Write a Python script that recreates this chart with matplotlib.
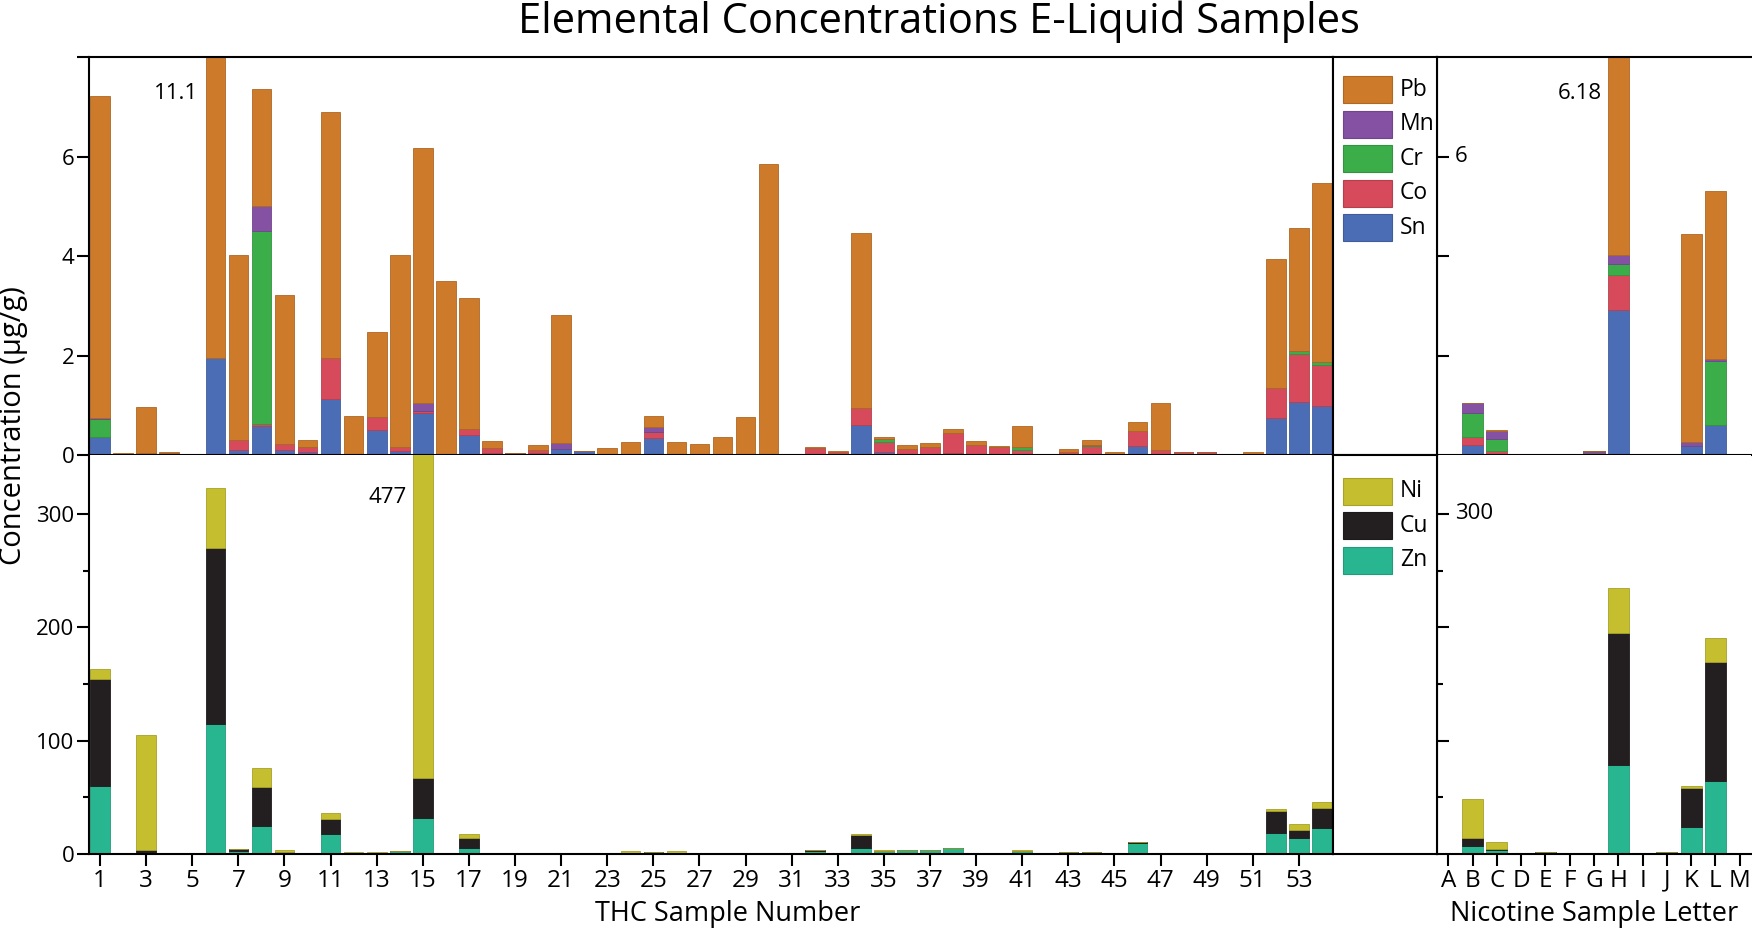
import matplotlib
matplotlib.use('Agg')
import matplotlib.pyplot as plt
from matplotlib.patches import Rectangle
from matplotlib.transforms import blended_transform_factory
from matplotlib.colors import to_rgb
import numpy as np

plt.rcParams['font.family'] = ['Open Sans', 'DejaVu Sans']

# ---------------- data ----------------
thc_samples = list(range(1, 55))
nic_letters = list("ABCDEFGHIJKLM")

# THC, upper panel (ug/g)
thc_Sn = [0.36, 0.02, 0.03, 0, 0, 1.94, 0.11, 0.59, 0.11, 0.06, 1.13, 0.02, 0.50, 0.08, 0.85, 0, 0.40, 0.05,
          0.02, 0.05, 0.13, 0.08, 0.03, 0.02, 0.34, 0, 0, 0, 0, 0, 0, 0.03, 0.01, 0.60, 0.07, 0,
          0, 0.05, 0, 0, 0, 0, 0, 0, 0, 0.19, 0, 0, 0, 0, 0, 0.75, 1.07, 0.99]
thc_Co = [0, 0, 0, 0, 0, 0, 0.19, 0.03, 0.11, 0.11, 0.81, 0, 0.27, 0.09, 0.03, 0, 0.12, 0.10,
          0.03, 0.06, 0, 0, 0, 0, 0.13, 0, 0, 0, 0, 0, 0.02, 0.12, 0.06, 0.34, 0.20, 0.12,
          0.17, 0.40, 0.21, 0.17, 0.11, 0.01, 0.07, 0.18, 0.03, 0.30, 0.10, 0.06, 0.06, 0, 0.02, 0.59, 0.97, 0.82]
thc_Cr = [0.36, 0, 0, 0.04, 0, 0, 0, 3.88, 0, 0, 0, 0, 0, 0, 0, 0, 0, 0,
          0, 0, 0, 0, 0, 0, 0, 0, 0, 0, 0, 0, 0, 0, 0, 0, 0.06, 0,
          0, 0, 0, 0, 0.06, 0, 0, 0.03, 0, 0, 0, 0, 0, 0, 0, 0.01, 0.05, 0.05]
thc_Mn = [0.03, 0, 0.02, 0, 0, 0, 0, 0.51, 0, 0, 0, 0, 0, 0, 0.16, 0, 0, 0,
          0, 0, 0.12, 0, 0, 0, 0.09, 0, 0, 0, 0, 0, 0, 0, 0, 0, 0, 0,
          0, 0, 0, 0, 0, 0, 0, 0, 0, 0, 0, 0, 0, 0, 0, 0, 0, 0]
thc_Pb = [6.47, 0.03, 0.92, 0.02, 0.02, 11.1, 3.73, 2.34, 2.99, 0.14, 4.95, 0.77, 1.70, 3.85, 5.13, 3.49, 2.64, 0.14,
          0, 0.10, 2.57, 0, 0.12, 0.25, 0.22, 0.27, 0.23, 0.36, 0.76, 5.85, 0, 0.02, 0.01, 3.53, 0.04, 0.09,
          0.07, 0.07, 0.07, 0.02, 0.42, 0, 0.06, 0.09, 0.03, 0.18, 0.94, 0.01, 0.01, 0, 0.04, 2.58, 2.48, 3.60]

# THC, lower panel (ug/g)
thc_Zn = [60, 0.3, 1, 1.2, 0, 115, 2.6, 25, 0.9, 0, 18, 0, 0, 2.4, 32, 0, 5.6, 1.2,
          0, 0, 0, 0, 0, 0, 1, 0.8, 0, 0, 0, 0, 0, 2.6, 0, 5.6, 2.6, 3.2,
          3.8, 5, 0, 0, 2.6, 0, 1.5, 2, 0, 9.7, 0, 0, 0, 0, 0, 18.8, 14.4, 22.9]
thc_Cu = [94, 0.3, 2.2, 0, 0, 155, 1.5, 34, 1.1, 0.3, 13, 0, 0, 0, 35.4, 0, 8.5, 0,
          0, 0, 0, 0, 0, 0, 0.5, 0, 0, 0.4, 0.4, 0, 0, 1.2, 0, 11.2, 0, 0,
          0, 0, 0, 0, 0, 0, 0, 0, 0, 0.6, 0, 0, 0.3, 0, 0.3, 19.1, 7.1, 18]
thc_Ni = [9, 0, 102, 0, 0, 53, 0.3, 16.5, 1.2, 0, 5.6, 2, 1.5, 0, 477, 0.4, 3.5, 0,
          0, 0, 0.4, 0.6, 0.8, 2.9, 0, 2, 1.2, 0, 0, 0.8, 0.8, 0, 0, 1.1, 0.6, 0,
          0, 0, 0, 0, 1.2, 0, 0, 0, 0, 0, 0, 0, 0, 0, 0, 1.8, 5, 5.3]

# Nicotine, upper panel
nic_Sn = [0, 0.20, 0.03, 0, 0, 0, 0.07, 2.92, 0, 0, 0.19, 0.60, 0]
nic_Co = [0.01, 0.17, 0.05, 0.01, 0, 0, 0.01, 0.70, 0, 0, 0, 0, 0]
nic_Cr = [0, 0.48, 0.24, 0, 0, 0, 0, 0.22, 0, 0, 0, 1.29, 0]
nic_Mn = [0, 0.19, 0.17, 0, 0.02, 0.03, 0, 0.19, 0.02, 0.02, 0.08, 0.03, 0.02]
nic_Pb = [0.02, 0, 0.01, 0, 0, 0, 0, 6.18, 0, 0, 4.17, 3.39, 0]

# Nicotine, lower panel
nic_Zn = [0, 7, 3.2, 0, 0, 0, 0, 78.8, 1.2, 1.8, 24.1, 64.4, 0]
nic_Cu = [0, 7.4, 1.2, 0.5, 1.8, 0, 0.8, 116.2, 0, 0, 34.1, 105.3, 0]
nic_Ni = [0, 34.4, 6.2, 0.7, 0, 0.6, 0, 40, 0, 0, 1.5, 20.9, 0]

top_names = ["Sn", "Co", "Cr", "Mn", "Pb"]          # stacking order, bottom -> top
bot_names = ["Zn", "Cu", "Ni"]
colors = {"Pb": "#CD7A2A", "Mn": "#8451A3", "Cr": "#3BAE4A", "Co": "#D64A5B", "Sn": "#4B6DB6",
          "Ni": "#C5BF2F", "Cu": "#231F20", "Zn": "#28B690"}
legend_top = ["Pb", "Mn", "Cr", "Co", "Sn"]
legend_bot = ["Ni", "Cu", "Zn"]

# ---------------- figure ----------------
W, H = 1752, 931
fig = plt.figure(figsize=(W / 100, H / 100), dpi=100)

Y_TOP, Y_MID, Y_BOT = 57, 455, 854
X_L, X_LEG, X_R, X_END = 89, 1333, 1437, 1751

LW = 1.5
YTICK_FS = 16
XTICK_FS = 17.5


def ax_px(x0, y0, x1, y1):
    return fig.add_axes([x0 / W, 1 - y1 / H, (x1 - x0) / W, (y1 - y0) / H])


def darker(c, f=0.85):
    r, g, b = to_rgb(c)
    return (r * f, g * f, b * f)


def stack(ax, x, series, names, width):
    bottom = np.zeros(len(x))
    for vals, n in zip(series, names):
        vals = np.asarray(vals, dtype=float)
        ax.bar(x, vals, width, bottom=bottom, color=colors[n], edgecolor=darker(colors[n]),
               linewidth=0.6)
        bottom += vals


def style(ax):
    for s in ax.spines.values():
        s.set_linewidth(LW)
    ax.tick_params(which='major', width=LW, length=8.5, pad=2)
    ax.tick_params(which='minor', width=LW, length=4.5)
    ax.tick_params(axis='x', labelsize=XTICK_FS)
    ax.tick_params(axis='y', labelsize=YTICK_FS)


# THC top
ax1 = ax_px(X_L, Y_TOP, X_LEG, Y_MID)
x_thc = np.array(thc_samples)
stack(ax1, x_thc, [thc_Sn, thc_Co, thc_Cr, thc_Mn, thc_Pb], top_names, 0.85)
ax1.set_xlim(0.52, 54.48)
ax1.set_ylim(0, 8)
style(ax1)
ax1.set_xticks(range(1, 55, 2))
ax1.tick_params(axis='x', labelbottom=False)
ax1.set_yticks([0, 2, 4, 6, 8])
ax1.set_yticklabels(['0', '2', '4', '6', ''])
ax1.text(5.25, 7.26, '11.1', ha='right', va='center', fontsize=16)

# THC bottom
ax2 = ax_px(X_L, Y_MID, X_LEG, Y_BOT)
stack(ax2, x_thc, [thc_Zn, thc_Cu, thc_Ni], bot_names, 0.85)
ax2.set_xlim(0.52, 54.48)
ax2.set_ylim(0, 352)
style(ax2)
ax2.spines['top'].set_visible(False)
ax2.set_xticks(range(1, 55, 2))
ax2.set_xticklabels([str(v) for v in range(1, 55, 2)])
ax2.set_yticks([0, 100, 200, 300])
ax2.set_yticks([50, 150, 250], minor=True)
ax2.text(14.31, 314.5, '477', ha='right', va='center', fontsize=16)

# Nicotine top
ax3 = ax_px(X_R, Y_TOP, X_END, Y_MID)
x_nic = np.arange(len(nic_letters))
stack(ax3, x_nic, [nic_Sn, nic_Co, nic_Cr, nic_Mn, nic_Pb], top_names, 0.87)
ax3.set_xlim(-0.47, 12.47)
ax3.set_ylim(0, 8)
style(ax3)
ax3.spines['right'].set_visible(False)
ax3.set_xticks(x_nic)
ax3.tick_params(axis='x', labelbottom=False)
ax3.set_yticks([2, 4, 6])
ax3.tick_params(axis='y', direction='in', labelleft=False)
tr3 = blended_transform_factory(ax3.transAxes, ax3.transData)
ax3.text(0.057, 6, '6', transform=tr3, ha='left', va='center', fontsize=YTICK_FS)
ax3.text(6.33, 7.26, '6.18', ha='right', va='center', fontsize=16)

# Nicotine bottom
ax4 = ax_px(X_R, Y_MID, X_END, Y_BOT)
stack(ax4, x_nic, [nic_Zn, nic_Cu, nic_Ni], bot_names, 0.87)
ax4.set_xlim(-0.47, 12.47)
ax4.set_ylim(0, 352)
style(ax4)
ax4.spines['right'].set_visible(False)
ax4.spines['top'].set_visible(False)
ax4.set_xticks(x_nic)
ax4.set_xticklabels(nic_letters)
ax4.set_yticks([100, 200, 300])
ax4.set_yticks([50, 150, 250], minor=True)
ax4.tick_params(axis='y', which='both', direction='in', labelleft=False)
tr4 = blended_transform_factory(ax4.transAxes, ax4.transData)
ax4.text(0.057, 300, '300', transform=tr4, ha='left', va='center', fontsize=YTICK_FS)

# Legend column
for (y0, y1, names, centers) in [(Y_TOP, Y_MID, legend_top, [32.5, 67, 101.5, 136, 170.5]),
                                 (Y_MID, Y_BOT, legend_bot, [36, 70.5, 105])]:
    axl = ax_px(X_LEG, y0, X_R, y1)
    axl.set_xlim(0, X_R - X_LEG)
    axl.set_ylim(y1 - y0, 0)
    axl.set_xticks([])
    axl.set_yticks([])
    for s in axl.spines.values():
        s.set_linewidth(LW)
    for n, c in zip(names, centers):
        axl.add_patch(Rectangle((10, c - 13.5), 49, 27, facecolor=colors[n],
                                edgecolor=darker(colors[n]), linewidth=0.8))
        axl.text(67, c, n, ha='left', va='center', fontsize=16.5)

# Texts
fig.text(939 / W, 1 - 33 / H, 'Elemental Concentrations E-Liquid Samples', ha='center', va='baseline',
         fontsize=30)
fig.text(14 / W, 1 - 426 / H, 'Concentration (µg/g)', rotation=90, ha='center', va='center',
         fontsize=21)
fig.text(728 / W, 1 - 914 / H, 'THC Sample Number', ha='center', va='center', fontsize=19.5)
fig.text(1594 / W, 1 - 914 / H, 'Nicotine Sample Letter', ha='center', va='center', fontsize=19.5)

fig.savefig('out.png', dpi=100)
